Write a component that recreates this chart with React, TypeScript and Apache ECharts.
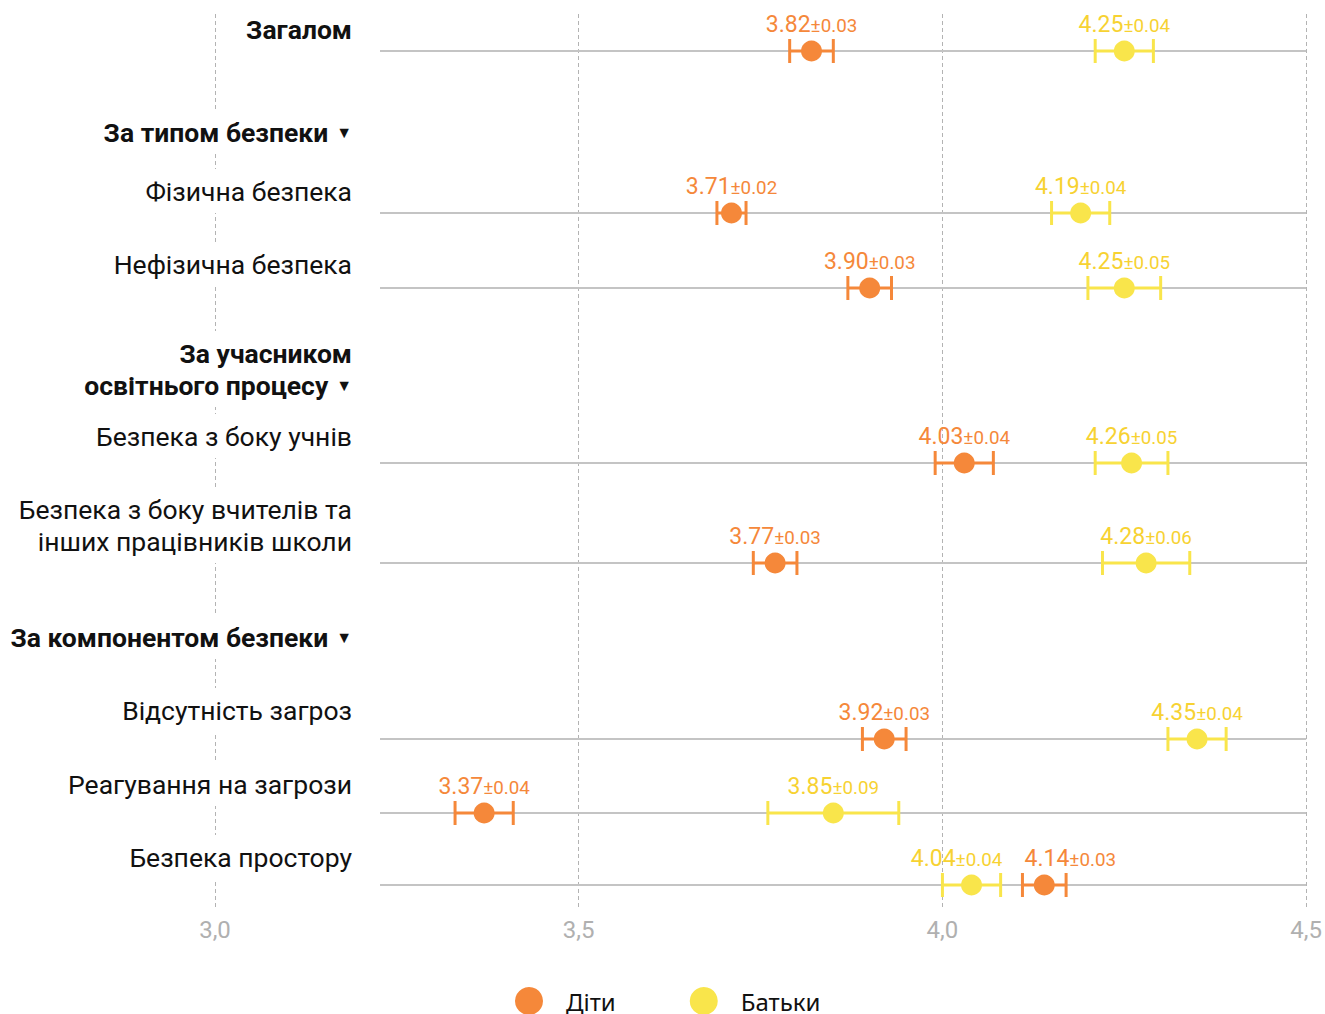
import React, { useEffect, useRef } from 'react';
import * as echarts from 'echarts';

// ---- data ----
const rowLabels = [
  'Загалом',
  'За типом безпеки',
  'Фізична безпека',
  'Нефізична безпека',
  'За учасником\nосвітнього процесу',
  'Безпека з боку учнів',
  'Безпека з боку вчителів та\nінших працівників школи',
  'За компонентом безпеки',
  'Відсутність загроз',
  'Реагування на загрози',
  'Безпека простору',
];
const rowKinds = ['total', 'group', 'item', 'item', 'group', 'item', 'item', 'group', 'item', 'item', 'item'];

// rows that carry values (index into rowLabels)
const dataRows = [0, 2, 3, 5, 6, 8, 9, 10];
const childrenMean = [3.82, 3.71, 3.9, 4.03, 3.77, 3.92, 3.37, 4.14];
const childrenErr = [0.03, 0.02, 0.03, 0.04, 0.03, 0.03, 0.04, 0.03];
const parentsMean = [4.25, 4.19, 4.25, 4.26, 4.28, 4.35, 3.85, 4.04];
const parentsErr = [0.04, 0.04, 0.05, 0.05, 0.06, 0.04, 0.09, 0.04];
const seriesNames = ['Діти', 'Батьки'];
const xMin = 3;
const xMax = 4.5;
const xStep = 0.5;

// ---- layout (vertical axis units = rows' positions) ----
const rowLineY = [51, 132, 213, 288, 369, 463, 563, 637, 739, 813, 885];
const rowLabelY = [29, 132, 191, 264, 369, 436, 525, 637, 710, 784, 857];
const childrenLabelShift = [0, 0, 0, 0, 0, 0, 0, 26];
const parentsLabelShift = [0, 0, 0, 0, 0, 0, 0, -15];
const Y_MIN = 14;
const Y_MAX = 910;
const LABEL_RIGHT = 137; // px right of the 3.0 line
const LINE_START = 165; // px right of the 3.0 line

// ---- styles ----
const ORANGE = '#F5883A';
const YELLOW = '#F9E54B';
const ORANGE_TEXT = '#F5883A';
const YELLOW_TEXT = '#F7D232';
const FONT = 'Roboto';

function rowsRender(params: any, api: any) {
  const i = api.value(2);
  const kind = rowKinds[i];
  const cs = params.coordSys;
  const lineY = api.coord([xMin, rowLineY[i]])[1];
  const labelY = api.coord([xMin, rowLabelY[i]])[1];
  const x0 = api.coord([xMin, rowLineY[i]])[0];
  const children: any[] = [];
  if (kind !== 'group') {
    children.push({
      type: 'line',
      shape: { x1: x0 + LINE_START, y1: lineY, x2: cs.x + cs.width, y2: lineY },
      style: { stroke: '#c4c4c4', lineWidth: 2 },
    });
  }
  const lines = rowLabels[i].split('\n');
  let text: string;
  if (kind === 'group') {
    text = lines.map((l, k) => (k === lines.length - 1 ? `{b|${l}}{t|  ▼}` : `{b|${l}}`)).join('\n');
  } else if (kind === 'total') {
    text = lines.map((l) => `{b|${l}}`).join('\n');
  } else {
    text = lines.map((l) => `{n|${l}}`).join('\n');
  }
  children.push({
    type: 'text',
    x: x0 + LABEL_RIGHT,
    y: labelY,
    style: {
      text,
      align: 'right',
      verticalAlign: 'middle',
      backgroundColor: '#ffffff',
      padding: [6, 0, 6, 4],
      rich: {
        b: { fontFamily: FONT, fontSize: 26.5, fontWeight: 'bold', fill: '#111111', lineHeight: 32 },
        n: { fontFamily: FONT, fontSize: 26.5, fontWeight: 'normal', fill: '#111111', lineHeight: 32 },
        t: { fontFamily: FONT, fontSize: 16, fill: '#111111', lineHeight: 32 },
      },
    },
  });
  return { type: 'group', children };
}

function errRender(color: string) {
  return (params: any, api: any) => {
    const v = api.value(0);
    const y = api.value(1);
    const e = api.value(2);
    const p1 = api.coord([v - e, y]);
    const p2 = api.coord([v + e, y]);
    const h = 12;
    const st = { stroke: color, lineWidth: 3 };
    return {
      type: 'group',
      children: [
        { type: 'line', shape: { x1: p1[0], y1: p1[1], x2: p2[0], y2: p2[1] }, style: st },
        { type: 'line', shape: { x1: p1[0], y1: p1[1] - h, x2: p1[0], y2: p1[1] + h }, style: st },
        { type: 'line', shape: { x1: p2[0], y1: p2[1] - h, x2: p2[0], y2: p2[1] + h }, style: st },
      ],
    };
  };
}

function pointData(means: number[], errs: number[]) {
  return means.map((m, k) => [m, rowLineY[dataRows[k]], errs[k]]);
}

function dotSeries(name: string, means: number[], errs: number[], shifts: number[], color: string, textColor: string) {
  return {
    type: 'scatter',
    name,
    z: 4,
    data: pointData(means, errs).map((v, k) => ({ value: v, label: { offset: [shifts[k], 0] } })),
    symbol: 'circle',
    symbolSize: 21,
    itemStyle: { color, opacity: 1 },
    emphasis: { disabled: true },
    label: {
      show: true,
      position: 'top',
      distance: 5,
      formatter: (p: any) => `{v|${p.value[0].toFixed(2)}}{e|±${p.value[2].toFixed(2)}}`,
      rich: {
        v: { fontFamily: FONT, fontSize: 23, color: textColor, lineHeight: 24, verticalAlign: 'bottom' },
        e: { fontFamily: FONT, fontSize: 18.8, color: textColor, lineHeight: 24, verticalAlign: 'bottom' },
      },
    },
  };
}

export default function App() {
  const ref = useRef<HTMLDivElement>(null);
  useEffect(() => {
    document.body.style.margin = '0';
    const chart = echarts.init(ref.current!, null, { renderer: 'svg' });
    const option: any = {
      animation: false,
      backgroundColor: '#ffffff',
      grid: { left: 215, right: 18, top: Y_MIN, bottom: 1014 - Y_MAX },
      xAxis: {
        type: 'value',
        min: xMin,
        max: xMax,
        interval: xStep,
        axisLine: { show: false },
        axisTick: { show: false },
        splitLine: { show: true, lineStyle: { type: [4, 3], color: '#b3b3b3', width: 1 } },
        axisLabel: {
          formatter: (v: number) => v.toFixed(1).replace('.', ','),
          color: '#b0b0b0',
          fontSize: 24,
          fontFamily: FONT,
          margin: 8,
          showMinLabel: true,
          showMaxLabel: true,
          hideOverlap: false,
        },
      },
      yAxis: { type: 'value', min: Y_MIN, max: Y_MAX, inverse: true, show: false },
      legend: {
        data: seriesNames,
        top: 987,
        left: 515,
        padding: 0,
        icon: 'circle',
        itemWidth: 28,
        itemHeight: 28,
        itemGap: 74,
        selectedMode: false,
        textStyle: { fontSize: 24, fontFamily: 'Noto Sans', color: '#111111', padding: [0, 0, 0, 18] },
      },
      series: [
        {
          type: 'custom',
          name: 'rows',
          z: 1,
          silent: true,
          renderItem: rowsRender,
          data: rowLabels.map((_, i) => [xMin, rowLineY[i], i]),
          encode: { x: 0, y: 1 },
        },
        {
          type: 'custom',
          name: 'err-children',
          z: 2,
          silent: true,
          renderItem: errRender(ORANGE),
          data: pointData(childrenMean, childrenErr),
          encode: { x: 0, y: 1 },
        },
        {
          type: 'custom',
          name: 'err-parents',
          z: 2,
          silent: true,
          renderItem: errRender(YELLOW),
          data: pointData(parentsMean, parentsErr),
          encode: { x: 0, y: 1 },
        },
        dotSeries(seriesNames[0], childrenMean, childrenErr, childrenLabelShift, ORANGE, ORANGE_TEXT),
        dotSeries(seriesNames[1], parentsMean, parentsErr, parentsLabelShift, YELLOW, YELLOW_TEXT),
      ],
    };
    chart.setOption(option);
    return () => chart.dispose();
  }, []);
  return <div ref={ref} style={{ width: 1325, height: 1014 }} />;
}
